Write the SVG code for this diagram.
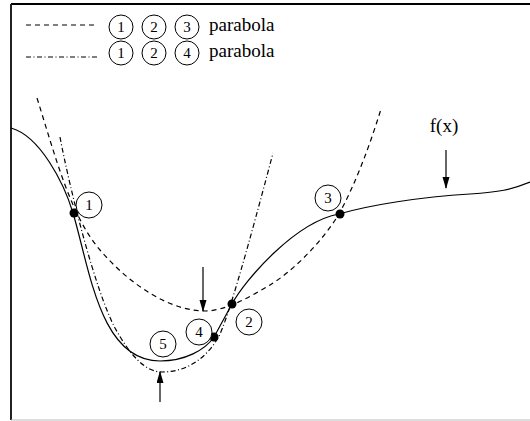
<svg xmlns="http://www.w3.org/2000/svg" width="530" height="421" viewBox="0 0 530 421">
<style>
.c{fill:none;stroke:#000;stroke-width:1.2}
.dash{stroke-dasharray:5 4}
.dd{stroke-dasharray:5 2.5 1 2.5}
.lc{fill:#fff;stroke:#000;stroke-width:1}
.num{font-family:"Liberation Serif","Times New Roman",serif;font-size:15px;text-anchor:middle;fill:#000}
.t{font-family:"Liberation Serif","Times New Roman",serif;font-size:19px;fill:#000}
.dot{fill:#000}
.arr{fill:none;stroke:#000;stroke-width:1.2}
</style>
<defs>
<marker id="ah" markerWidth="12" markerHeight="8" refX="11" refY="3.5" orient="auto" markerUnits="userSpaceOnUse">
<path d="M0,0 L12,3.5 L0,7 Z" fill="#000"/>
</marker>
</defs>
<rect width="530" height="421" fill="#fff"/>
<g id="frame">
<line x1="11" y1="4" x2="530" y2="4" stroke="#000" stroke-width="2"/>
<line x1="11" y1="4" x2="11" y2="420" stroke="#222" stroke-width="2"/>
<line x1="11" y1="420" x2="530" y2="420" stroke="#bbb" stroke-width="1"/>
</g>
<g id="legend">
<line class="c dash" x1="26" y1="25" x2="97" y2="25"/>
<line class="c dd" x1="26" y1="57" x2="97" y2="57"/>
<circle class="lc" cx="121" cy="27" r="12"/><text class="num" x="121" y="32">1</text>
<circle class="lc" cx="154" cy="27" r="12"/><text class="num" x="154" y="32">2</text>
<circle class="lc" cx="187" cy="27" r="12"/><text class="num" x="187" y="32">3</text>
<text class="t" x="209" y="31">parabola</text>
<circle class="lc" cx="121" cy="53" r="12"/><text class="num" x="121" y="58">1</text>
<circle class="lc" cx="154" cy="53" r="12"/><text class="num" x="154" y="58">2</text>
<circle class="lc" cx="187" cy="53" r="12"/><text class="num" x="187" y="58">4</text>
<text class="t" x="209" y="57">parabola</text>
</g>
<g id="curves">
<path id="fx" class="c" d="M11,128 C40,136 64,183 73,213 C90,270 100,361 160,361 C185,361 205,350 214,337 L232,304 C245,280 295,222 339,214 C370,205 420,197 470,194 C500,192 510,190 530,182"/>
<path id="p123" class="c dash" d="M37,98 C55,155 70,215 100,250 C130,285 170,311 205,311 C225,311 250,297 270,285 C290,273 320,245 339,214 C355,185 370,145 381,109"/>
<path id="p124" class="c dd" d="M60,137 C70,190 95,290 115,328 C130,355 145,372 162,372 C185,372 205,360 218,338 C228,320 250,240 273,153"/>
</g>
<g id="points">
<circle class="dot" cx="74" cy="213" r="4.5"/>
<circle class="dot" cx="232" cy="304" r="4.5"/>
<circle class="dot" cx="340" cy="214" r="4.5"/>
<circle class="dot" cx="214" cy="337" r="4.5"/>
</g>
<g id="label1"><circle class="lc" cx="89" cy="205" r="13"/><text class="num" x="89" y="210">1</text></g>
<g id="label2"><circle class="lc" cx="249" cy="322" r="13"/><text class="num" x="249" y="327">2</text></g>
<g id="label3"><circle class="lc" cx="328" cy="198" r="13"/><text class="num" x="328" y="203">3</text></g>
<g id="label4"><circle class="lc" cx="199" cy="332" r="13"/><text class="num" x="199" y="337">4</text></g>
<g id="label5"><circle class="lc" cx="163" cy="344" r="13"/><text class="num" x="163" y="349">5</text></g>
<g id="fxlabel"><text class="t" x="444" y="132" text-anchor="middle">f(x)</text></g>
<g id="connectors">
<line class="arr" x1="446" y1="150" x2="446" y2="188" marker-end="url(#ah)"/>
<line class="arr" x1="203" y1="267" x2="203" y2="311" marker-end="url(#ah)"/>
<line class="arr" x1="160" y1="402" x2="160" y2="372" marker-end="url(#ah)"/>
</g>
</svg>
